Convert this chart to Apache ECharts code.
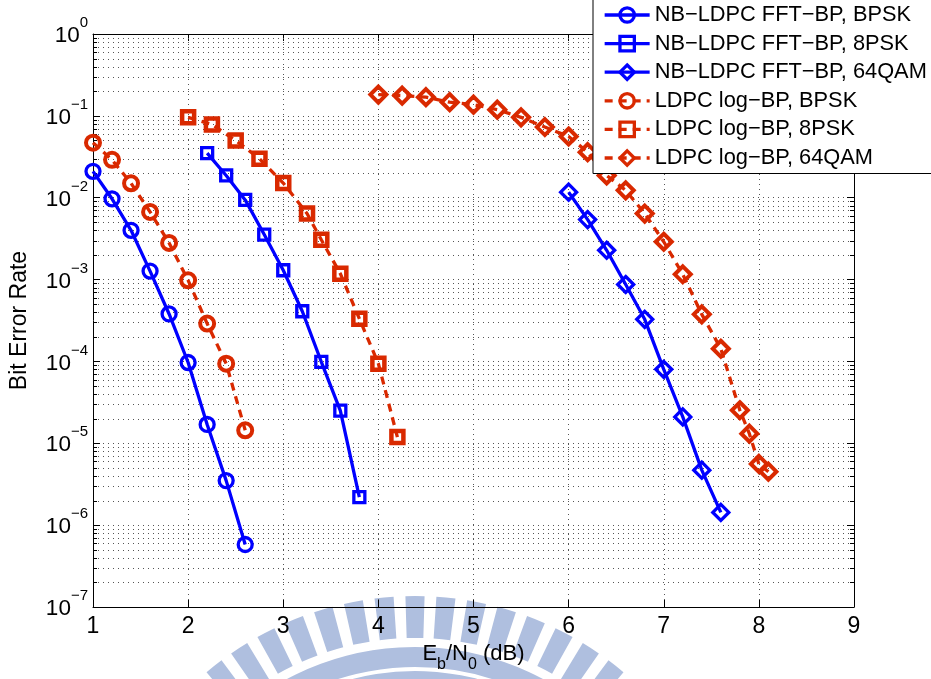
<!DOCTYPE html>
<html>
<head>
<meta charset="utf-8">
<script src="https://cdn.jsdelivr.net/npm/echarts@6/dist/echarts.min.js"></script>
<style>
html,body{margin:0;padding:0;background:#fff;}
#chart{width:931px;height:679px;}
</style>
</head>
<body>
<div id="chart"></div>
<script>
// ---- data ----
const seriesNames = [
  'NB\u2212LDPC FFT\u2212BP, BPSK',
  'NB\u2212LDPC FFT\u2212BP, 8PSK',
  'NB\u2212LDPC FFT\u2212BP, 64QAM',
  'LDPC log\u2212BP, BPSK',
  'LDPC log\u2212BP, 8PSK',
  'LDPC log\u2212BP, 64QAM'
];
const xNbBpsk   = [1.0, 1.2, 1.4, 1.6, 1.8, 2.0, 2.2, 2.4, 2.6];
const berNbBpsk = [2.1e-2, 9.7e-3, 4.0e-3, 1.27e-3, 3.8e-4, 9.7e-5, 1.7e-5, 3.5e-6, 5.8e-7];

const xNb8psk   = [2.2, 2.4, 2.6, 2.8, 3.0, 3.2, 3.4, 3.6, 3.8];
const berNb8psk = [3.5e-2, 1.87e-2, 9.4e-3, 3.55e-3, 1.3e-3, 4.1e-4, 9.9e-5, 2.5e-5, 2.2e-6];

const xNb64     = [6.0, 6.2, 6.4, 6.6, 6.8, 7.0, 7.2, 7.4, 7.6];
const berNb64   = [1.17e-2, 5.4e-3, 2.28e-3, 8.7e-4, 3.27e-4, 8.0e-5, 2.1e-5, 4.7e-6, 1.43e-6];

const xLdpcBpsk   = [1.0, 1.2, 1.4, 1.6, 1.8, 2.0, 2.2, 2.4, 2.6];
const berLdpcBpsk = [4.7e-2, 2.9e-2, 1.5e-2, 6.7e-3, 2.8e-3, 9.8e-4, 2.9e-4, 9.4e-5, 1.44e-5];

const xLdpc8psk   = [2.0, 2.25, 2.5, 2.75, 3.0, 3.25, 3.4, 3.6, 3.8, 4.0, 4.2];
const berLdpc8psk = [9.6e-2, 7.85e-2, 5.0e-2, 3.0e-2, 1.51e-2, 6.4e-3, 3.07e-3, 1.18e-3, 3.33e-4, 9.4e-5, 1.19e-5];

const xLdpc64   = [4.0, 4.25, 4.5, 4.75, 5.0, 5.25, 5.5, 5.75, 6.0, 6.2, 6.4, 6.6, 6.8, 7.0, 7.2, 7.4, 7.6, 7.8, 7.9, 8.0, 8.1];
const berLdpc64 = [0.182, 0.177, 0.169, 0.147, 0.137, 0.119, 0.096, 0.073, 0.056, 0.036, 0.0187, 0.0123, 0.0064, 0.0029, 0.00116, 3.76e-4, 1.43e-4, 2.53e-5, 1.31e-5, 5.6e-6, 4.5e-6];

const xTicks = [1, 2, 3, 4, 5, 6, 7, 8, 9];
const yDecadeExps = [-7, -6, -5, -4, -3, -2, -1, 0];
const minorMantissas = [2, 3, 4, 5, 6, 7, 8, 9];

// ---- styling ----
const FONT = "'Liberation Sans', Arial, Helvetica, sans-serif";
const BLUE = '#0000ff';
const RED = '#d92900';
const GRID_COLOR = '#555';
const GRID_DASH = [1, 4];

function pairs(xs, ys){ return xs.map((x,i)=>[x, ys[i]]); }

function mkSeries(name, xs, ys, color, symbol, size, bw, dashed){
  return {
    name, type:'line', data: pairs(xs, ys),
    xAxisIndex:0, yAxisIndex:0,
    symbol, symbolSize:size, showSymbol:true,
    lineStyle:{color, width:3.3, type: dashed ? [8,6] : 'solid', cap:'butt'},
    itemStyle:{color:'rgba(0,0,0,0)', borderColor:color, borderWidth:bw},
    emphasis:{disabled:true},
    z: 3
  };
}

// minor log grid positions (axis decoration)
const minorData = [];
yDecadeExps.slice(0, -1).forEach(e => {
  minorMantissas.forEach(m => minorData.push([1, m * Math.pow(10, e)]));
});

// watermark (decoration)
const wm = [];
const WCX = 415, WCY = 919;
for (let k = -9; k <= 9; k++) {
  const c = (-90 + k * 5.5) * Math.PI / 180;
  const hw = 1.7 * Math.PI / 180;
  wm.push({type:'sector', silent:true, z:-10,
    shape:{cx:WCX, cy:WCY, r:323, r0:281, startAngle:c-hw, endAngle:c+hw},
    style:{fill:'#afbfdf'}});
}
wm.push({type:'sector', silent:true, z:-10,
  shape:{cx:WCX, cy:WCY, r:272, r0:252, startAngle:-Math.PI*0.8, endAngle:-Math.PI*0.2},
  style:{fill:'#afbfdf'}});
wm.push({type:'sector', silent:true, z:-10,
  shape:{cx:WCX, cy:WCY, r:248, r0:150, startAngle:-Math.PI*0.8, endAngle:-Math.PI*0.2},
  style:{fill:'#afbfdf'}});

const chart = echarts.init(document.getElementById('chart'), null, {renderer:'canvas'});
const option = {
  animation:false,
  backgroundColor:'#fff',
  textStyle:{fontFamily:FONT},
  graphic: wm,
  grid:{left:92, right:77, top:34, bottom:72},
  legend:{
    orient:'vertical', left:593, top:-6,
    padding:[10, 5, 4.5, 10],
    backgroundColor:'#fff', borderColor:'#000', borderWidth:1, borderRadius:0,
    itemWidth:45, itemHeight:18, itemGap:6.6,
    lineStyle:{width:3.3},
    itemStyle:{borderWidth:3.3},
    textStyle:{fontSize:21.8, lineHeight:21, color:'#000', fontFamily:FONT},
    data: seriesNames,
    z: 10
  },
  xAxis:[{
    type:'value', min:xTicks[0], max:xTicks[xTicks.length-1], interval:1, position:'bottom',
    name:'{n|E}{s|b}{n|/N}{s|0}{n| (dB)}', nameLocation:'middle', nameGap:30,
    nameTextStyle:{rich:{
      n:{fontSize:22, fontFamily:FONT, color:'#000', verticalAlign:'bottom', padding:[0,0,8,0]},
      s:{fontSize:16, fontFamily:FONT, color:'#000', verticalAlign:'bottom'}
    }},
    axisLine:{show:true, onZero:false, lineStyle:{color:'#000', width:1}},
    axisTick:{show:true, inside:true, length:7, lineStyle:{color:'#000'}},
    axisLabel:{fontSize:23, color:'#000', margin:8, fontFamily:FONT},
    splitLine:{show:true, lineStyle:{color:GRID_COLOR, type:GRID_DASH, width:1}}
  },{
    type:'value', min:xTicks[0], max:xTicks[xTicks.length-1], interval:1, position:'top',
    axisLine:{show:true, onZero:false, lineStyle:{color:'#000', width:1}},
    axisTick:{show:true, inside:true, length:7, lineStyle:{color:'#000'}},
    axisLabel:{show:false}, splitLine:{show:false}
  }],
  yAxis:[{
    type:'log', logBase:10, min:1e-7, max:1, interval:1, position:'left',
    name:'Bit Error Rate', nameLocation:'middle', nameGap:62, nameRotate:90,
    nameTextStyle:{fontSize:23, color:'#000', fontFamily:FONT},
    axisLine:{show:true, onZero:false, lineStyle:{color:'#000', width:1}},
    axisTick:{show:true, inside:true, length:7, lineStyle:{color:'#000'}},
    axisLabel:{
      margin:5, color:'#000',
      formatter: v => {
        const e = Math.round(Math.log10(v));
        return '{b|10}{s|' + (e < 0 ? '\u2212' + (-e) : e) + '}';
      },
      rich:{
        b:{fontSize:22.5, fontFamily:FONT, color:'#000', verticalAlign:'bottom', padding:[0,0,5,0]},
        s:{fontSize:15, fontFamily:FONT, color:'#000', verticalAlign:'bottom', padding:[0,0,22,0]}
      }
    },
    splitLine:{show:true, lineStyle:{color:GRID_COLOR, type:GRID_DASH, width:1}}
  },{
    type:'log', logBase:10, min:1e-7, max:1, interval:1, position:'right',
    axisLine:{show:true, onZero:false, lineStyle:{color:'#000', width:1}},
    axisTick:{show:true, inside:true, length:7, lineStyle:{color:'#000'}},
    axisLabel:{show:false}, splitLine:{show:false}
  }],
  series:[
    {
      type:'custom', name:'minorGrid', xAxisIndex:0, yAxisIndex:0, silent:true, z:1,
      data: minorData,
      renderItem:(params, api) => {
        const v = api.value(1);
        const p1 = api.coord([xTicks[0], v]);
        const p2 = api.coord([xTicks[xTicks.length-1], v]);
        const y = Math.round(p1[1]) + 0.5;
        return {type:'group', children:[
          {type:'line', shape:{x1:p1[0], y1:y, x2:p2[0], y2:y},
           style:{stroke:GRID_COLOR, lineDash:GRID_DASH, lineWidth:1}},
          {type:'line', shape:{x1:p1[0], y1:y, x2:p1[0]+4, y2:y},
           style:{stroke:'#000', lineWidth:1}},
          {type:'line', shape:{x1:p2[0]-4, y1:y, x2:p2[0], y2:y},
           style:{stroke:'#000', lineWidth:1}}
        ]};
      }
    },
    mkSeries(seriesNames[0], xNbBpsk, berNbBpsk, BLUE, 'circle', 14, 3.3, false),
    mkSeries(seriesNames[1], xNb8psk, berNb8psk, BLUE, 'rect', 11, 3.3, false),
    mkSeries(seriesNames[2], xNb64, berNb64, BLUE, 'diamond', 16, 3.3, false),
    mkSeries(seriesNames[3], xLdpcBpsk, berLdpcBpsk, RED, 'circle', 14, 4, true),
    mkSeries(seriesNames[4], xLdpc8psk, berLdpc8psk, RED, 'rect', 12, 4.5, true),
    mkSeries(seriesNames[5], xLdpc64, berLdpc64, RED, 'diamond', 16, 4, true)
  ]
};
chart.setOption(option);
</script>
</body>
</html>
